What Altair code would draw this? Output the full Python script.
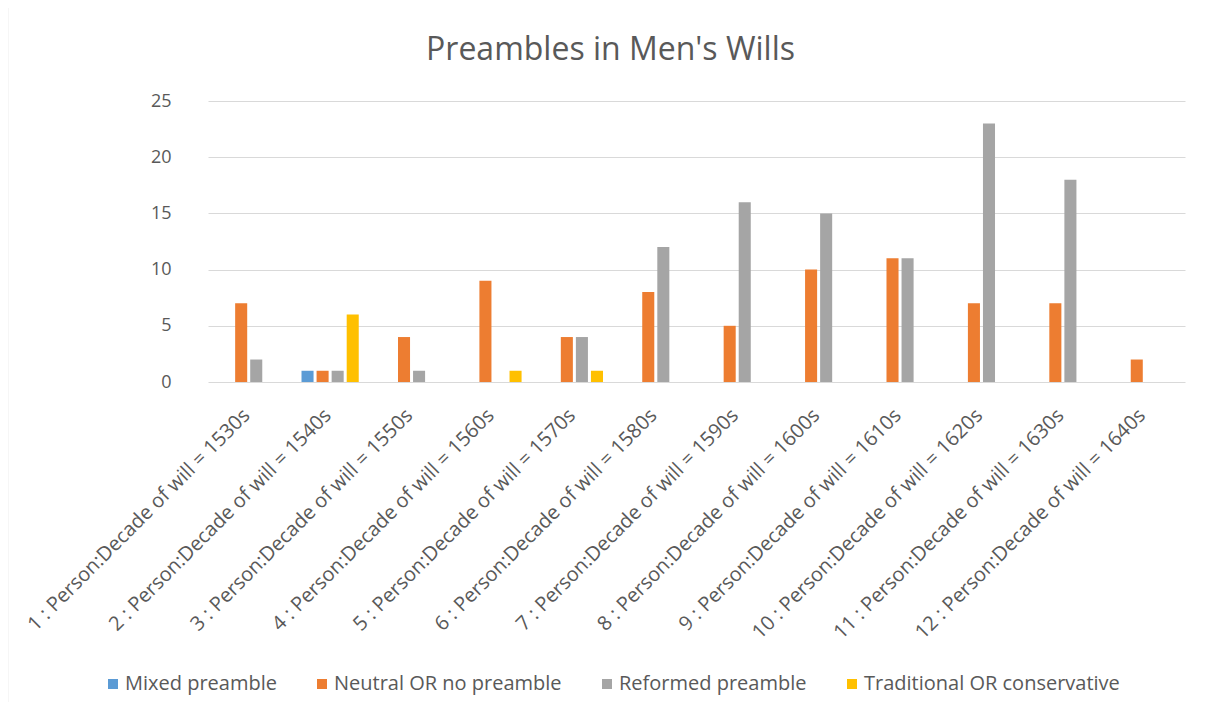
import altair as alt
import pandas as pd

decades = ["1530s", "1540s", "1550s", "1560s", "1570s", "1580s",
           "1590s", "1600s", "1610s", "1620s", "1630s", "1640s"]
categories = [f"{i + 1} : Person:Decade of will = {d}" for i, d in enumerate(decades)]
series = ["Mixed preamble", "Neutral OR no preamble", "Reformed preamble", "Traditional OR conservative"]
mixed = [0, 1, 0, 0, 0, 0, 0, 0, 0, 0, 0, 0]
neutral = [7, 1, 4, 9, 4, 8, 5, 10, 11, 7, 7, 2]
reformed = [2, 1, 1, 0, 4, 12, 16, 15, 11, 23, 18, 0]
traditional = [0, 6, 0, 1, 1, 0, 0, 0, 0, 0, 0, 0]
colors = ["#5B9BD5", "#ED7D31", "#A5A5A5", "#FFC000"]

rows = []
for s, vals in zip(series, [mixed, neutral, reformed, traditional]):
    for c, v in zip(categories, vals):
        rows.append({"category": c, "series": s, "value": v})
df = pd.DataFrame(rows)

FONT = "Open Sans"
GREY = "#595959"

bars = alt.Chart(df).mark_bar().encode(
    x=alt.X("category:N", sort=categories,
            scale=alt.Scale(paddingInner=0.26, paddingOuter=0.13),
            axis=alt.Axis(title=None, labelAngle=-45, labelAlign="right", labelBaseline="middle",
                          labelFont=FONT, labelFontSize=20, labelColor=GREY,
                          ticks=False, domain=False, labelPadding=30, labelOffset=-2,
                          labelLimit=0)),
    xOffset=alt.XOffset("series:N", sort=series,
                        scale=alt.Scale(paddingInner=0.2, paddingOuter=0.1)),
    y=alt.Y("value:Q", scale=alt.Scale(domain=[0, 25]),
            axis=alt.Axis(title=None, values=[0, 5, 10, 15, 20, 25], labelFont=FONT,
                          labelFontSize=18, labelColor=GREY, ticks=False, domain=False,
                          labelPadding=37, gridColor="#D9D9D9", gridWidth=1)),
    color=alt.Color("series:N", sort=series,
                    scale=alt.Scale(domain=series, range=colors),
                    legend=alt.Legend(title=None, orient="none", direction="horizontal",
                                      legendX=-105, legendY=573, symbolType="square",
                                      symbolSize=100, symbolStrokeWidth=0, labelOffset=2,
                                      labelFont=FONT, labelFontSize=20, labelColor=GREY,
                                      columnPadding=35, labelLimit=0)),
)

border = alt.Chart(pd.DataFrame({"k": [0]})).mark_rect(
    fill="transparent", stroke="#D9D9D9", strokeWidth=1.5
).encode(
    x=alt.value(-200.5), x2=alt.value(1005), y=alt.value(-95), y2=alt.value(625)
)

chart = alt.layer(border, bars).properties(
    width=977, height=281,
    title=alt.TitleParams("Preambles in Men's Wills", font=FONT, fontSize=32,
                          fontWeight="normal", color=GREY, anchor="middle", dx=-86,
                          offset=-62),
    autosize=alt.AutoSizeParams(type="none"),
    padding={"left": 200, "top": 93, "right": 12, "bottom": 320},
).configure_view(stroke=None)

chart.save("out.html", embed_options={"renderer": "svg", "actions": False})
